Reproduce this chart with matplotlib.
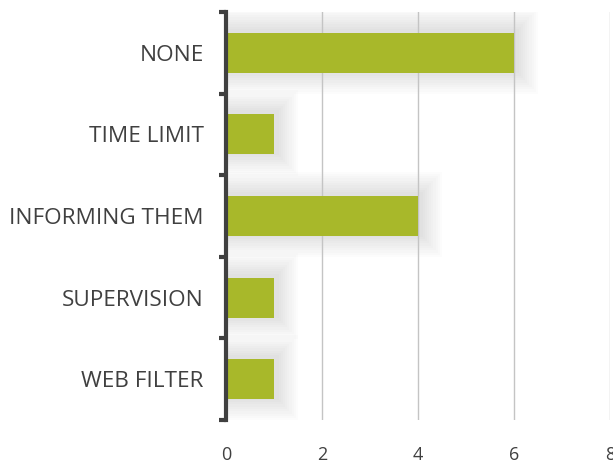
import matplotlib.pyplot as plt
from matplotlib.patches import Rectangle

categories = ["NONE", "TIME LIMIT", "INFORMING THEM", "SUPERVISION", "WEB FILTER"]
values = [6, 1, 4, 1, 1]
xticks = [0, 2, 4, 6, 8]

bar_color = "#a8b82a"
text_color = "#404040"

fig = plt.figure(figsize=(6.13, 4.68), dpi=100)
ax = fig.add_axes([0.3687, 0.1026, 0.6264, 0.8718])

ypos = list(range(len(categories)))[::-1]
bar_h = 0.49

# soft shadow behind each bar
for y, v in zip(ypos, values):
    for i in range(10):
        pad_x = 0.045 * (i + 1)
        pad_y = 0.028 * (i + 1)
        ax.add_patch(Rectangle((0 - pad_x, y - bar_h / 2 - pad_y + 0.02),
                               v + 2 * pad_x + 0.05, bar_h + 2 * pad_y,
                               facecolor="#000000", alpha=0.01,
                               edgecolor="none", zorder=1))

ax.barh(ypos, values, height=bar_h, color=bar_color, zorder=3)

ax.set_xlim(0, 8)
ax.set_ylim(-0.5, len(categories) - 0.5)
ax.set_xticks(xticks)
ax.set_xticklabels([str(t) for t in xticks])
ax.set_yticks(ypos)
ax.set_yticklabels(categories)

# category boundary ticks on the spine
ax.set_yticks([i - 0.5 for i in range(len(categories) + 1)], minor=True)
ax.tick_params(axis="y", which="major", length=0, pad=16,
               labelsize=16.2, labelcolor=text_color)
ax.tick_params(axis="y", which="minor", length=5, width=3, color=text_color)
ax.tick_params(axis="x", length=0, pad=19, labelsize=13, labelcolor=text_color)

ax.grid(axis="x", color="#c4c4c4", linewidth=1, zorder=2)
ax.set_axisbelow(False)
for s in ["top", "right", "bottom"]:
    ax.spines[s].set_visible(False)
ax.spines["left"].set_linewidth(3)
ax.spines["left"].set_color(text_color)
ax.spines["left"].set_zorder(4)

for lab in ax.get_xticklabels() + ax.get_yticklabels():
    lab.set_family(["Open Sans", "DejaVu Sans"])

fig.savefig("out.png", dpi=100, facecolor="white")
